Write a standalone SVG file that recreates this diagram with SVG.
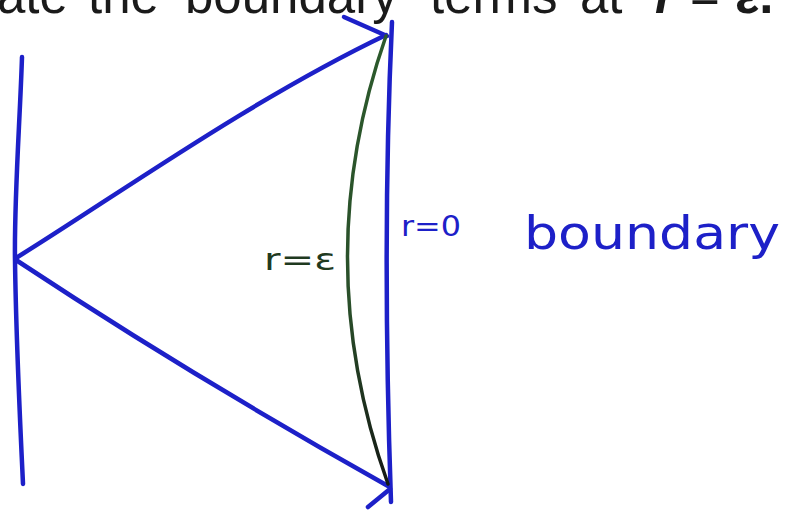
<svg xmlns="http://www.w3.org/2000/svg" width="785" height="511" viewBox="0 0 785 511">
<style>
.ink{fill:none;stroke:#1d20c8;stroke-width:4.5;stroke-linecap:round;stroke-linejoin:round}
.eps{fill:none;stroke:url(#gg);stroke-width:3.5;stroke-linecap:round}
.top{font-family:"Liberation Sans",Arial,sans-serif;font-size:51px;fill:#1a1a1a}
.hand{font-family:"DejaVu Sans","Liberation Sans",sans-serif;fill:#1d20c8}
.hg{font-family:"DejaVu Sans","Liberation Sans",sans-serif;fill:#1f3a1f}
</style>
<defs>
<linearGradient id="gg" x1="0" y1="36" x2="0" y2="484" gradientUnits="userSpaceOnUse">
<stop offset="0" stop-color="#2c5a2c"/>
<stop offset="0.6" stop-color="#2a4f2a"/>
<stop offset="1" stop-color="#141814"/>
</linearGradient>
</defs>
<rect width="785" height="511" fill="#ffffff"/>
<text class="top" y="13"><tspan x="-3">ate</tspan><tspan x="88">the</tspan><tspan x="185">boundary</tspan><tspan x="430">terms</tspan><tspan x="580">at</tspan><tspan x="655" font-weight="bold" font-style="italic">r</tspan><tspan x="690">=</tspan><tspan x="735" font-weight="bold">ε.</tspan></text>
<g id="shapes">
<path class="ink" d="M22,57 C20,120 14,200 15,260 C16,340 20,420 23,484"/>
<path class="ink" d="M16,258 C110,200 250,100 386,35"/>
<path class="ink" d="M16,260 Q190,375 388,486"/>
<path class="ink" d="M392,22 C386,150 384,300 391,502"/>
<path class="ink" stroke-width="6" d="M344,17 L387,36"/>
<path class="ink" d="M368,507 L390,489"/>
<path class="eps" d="M386,36 Q308,260 388,484"/>
</g>
<g id="labels">
<text class="hg" x="264" y="270" font-size="30" textLength="72" lengthAdjust="spacingAndGlyphs">r=ε</text>
<text class="hand" x="401" y="236" font-size="28" textLength="60" lengthAdjust="spacingAndGlyphs">r=0</text>
<text class="hand" x="524" y="249" font-size="46" textLength="256" lengthAdjust="spacingAndGlyphs">boundary</text>
</g>
</svg>
